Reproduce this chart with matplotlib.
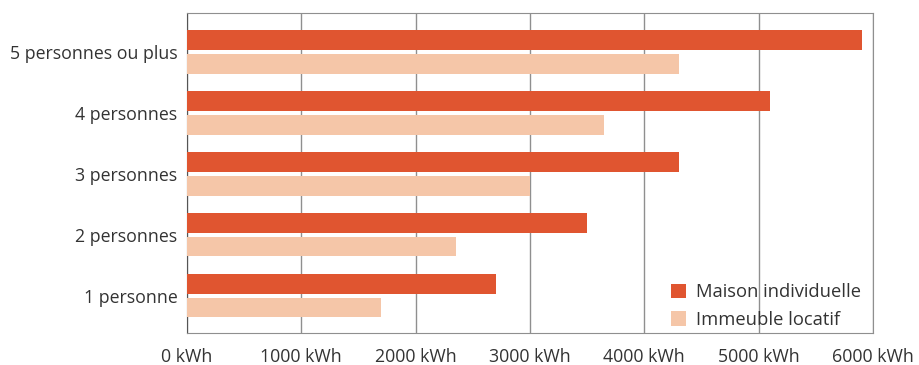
import matplotlib
matplotlib.use('Agg')
import matplotlib.pyplot as plt
import numpy as np

# Data: annual electricity consumption by household size
categories = ['1 personne', '2 personnes', '3 personnes', '4 personnes', '5 personnes ou plus']
maison = [2700, 3500, 4300, 5100, 5900]
immeuble = [1700, 2350, 3000, 3650, 4300]
ticks = [0, 1000, 2000, 3000, 4000, 5000, 6000]
tick_labels = ['0 kWh', '1000 kWh', '2000 kWh', '3000 kWh', '4000 kWh', '5000 kWh', '6000 kWh']

plt.rcParams['font.family'] = ['Open Sans', 'DejaVu Sans']

fig = plt.figure(figsize=(9.19, 3.65), dpi=100)
ax = fig.add_axes([0.2035, 0.0877, 0.7465, 0.8767])

y = np.arange(len(categories))
h = 0.32
ax.barh(y + 0.195, maison, height=h, color='#E05530', label='Maison individuelle', zorder=3)
ax.barh(y - 0.195, immeuble, height=h, color='#F5C6A8', label='Immeuble locatif', zorder=3)

ax.set_xlim(0, 6000)
ax.set_ylim(-0.61, 4.64)
ax.set_xticks(ticks)
ax.set_xticklabels(tick_labels)
ax.set_yticks(y)
ax.set_yticklabels(categories)
ax.tick_params(length=0, labelsize=12.8, colors='#333333', pad=7)
ax.tick_params(axis='x', pad=11)

ax.grid(axis='x', color='#8f8f8f', linewidth=1, zorder=0)
for side in ['top', 'right', 'bottom']:
    ax.spines[side].set_color('#8f8f8f')
ax.spines['left'].set_color('#555555')

ax.legend(loc='lower right', bbox_to_anchor=(0.995, -0.012), frameon=False, fontsize=13.2,
          handlelength=0.85, handleheight=0.85, labelcolor='#333333', borderaxespad=0.0,
          handletextpad=0.55, labelspacing=0.5, borderpad=0.45)

fig.savefig('out.png', dpi=100)
